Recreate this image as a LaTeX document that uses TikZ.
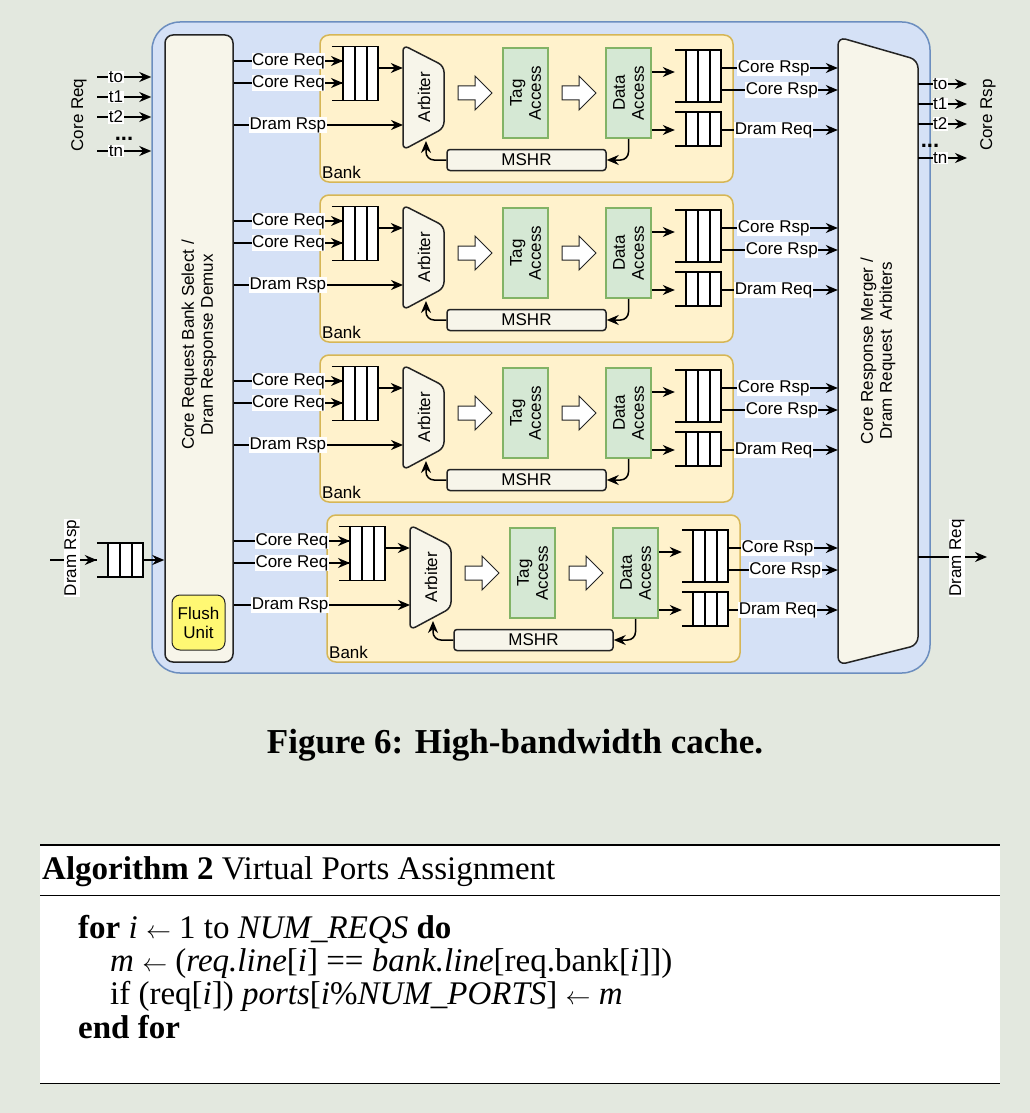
\documentclass[tikz,border=0pt]{standalone}
\usepackage{fontspec}
\setmainfont{Liberation Serif}
\newfontfamily\dsans{Liberation Sans}
\usetikzlibrary{arrows.meta,calc}
\definecolor{pagebg}{RGB}{227,232,223}
\definecolor{outerfill}{RGB}{213,225,246}
\definecolor{outerline}{RGB}{108,142,191}
\definecolor{bankfill}{RGB}{255,242,204}
\definecolor{bankline}{RGB}{214,182,86}
\definecolor{grnfill}{RGB}{213,232,212}
\definecolor{grnline}{RGB}{130,179,102}
\definecolor{boxfill}{RGB}{247,245,234}
\definecolor{lineclr}{RGB}{36,36,36}
\tikzset{
  every node/.style={font=\dsans\fontsize{17}{19}\selectfont},
  ar/.style={-{Stealth[length=12pt,width=10pt]},line width=1.5pt,draw=black},
  ln/.style={line width=1.5pt,draw=black},
  lbl/.style={fill=white,inner sep=0.5pt},
  grn/.style={draw=grnline,fill=grnfill,line width=1.5pt,minimum width=45,minimum height=90,inner sep=0pt},
  box/.style={draw=lineclr,fill=boxfill,line width=1.5pt,rounded corners=3pt},
  blk/.style={draw=lineclr,fill=white,line width=1pt},
  dots/.style={font=\dsans\bfseries\fontsize{22}{22}\selectfont,inner sep=0pt,anchor=base},
}
% queue: name, center, width, height
\newcommand{\myqueue}[4]{%
  \node[minimum width=#3,minimum height=#4,inner sep=0pt] (#1) at #2 {};
  \fill[white] ([xshift=0.24*#3]#1.south west) rectangle (#1.north east);
  \draw[ln] (#1.north west) -- (#1.north east) -- (#1.south east) -- (#1.south west);
  \foreach \f in {0.24,0.5,0.76}{\draw[ln] ([xshift=\f*#3]#1.north west) -- ([xshift=\f*#3]#1.south west);}
}
\begin{document}
\begin{tikzpicture}[x=1pt,y=-1pt]
\fill[pagebg] (0,0) rectangle (1030,1113);
\useasboundingbox (0,0) rectangle (1030,1113);
% outer
\node[draw=outerline,fill=outerfill,line width=1.5pt,rounded corners=28pt,minimum width=778,minimum height=651,inner sep=0pt] (outer) at (541,347.5) {};
% demux
\node[box,minimum width=68,minimum height=627,inner sep=0pt,rounded corners=8pt] (dmx) at (199,348.5) {};
\node[rotate=90,align=center] (dmxt) at (199,345) {Core Request Bank Select /\\Dram Response Demux};
\node[draw=lineclr,fill=yellow!55!white,line width=1pt,rounded corners=8pt,minimum width=53,minimum height=55,align=center,inner sep=0pt] (flush) at (198.5,622.5) {Flush\\Unit};
% merger
\node[minimum width=80,minimum height=628,inner sep=0pt] (mrg) at (878,351) {};
\draw[box,rounded corners=8pt] (838,665) -- (838,37) -- (918,60) -- (918,645) -- cycle;
\node[rotate=90,align=center] (mrgt) at (878,351) {Core Response Merger /\\Dram Request\ \ Arbiters};
% banks
\foreach \b/\dx/\dy in {1/0/0,2/0/160,3/0/320,4/7/480}{
\begin{scope}[shift={(\dx,\dy)}]
  \node[draw=bankline,fill=bankfill,line width=1.5pt,rounded corners=9pt,minimum width=413,minimum height=147,inner sep=0pt] (bank\b) at (526.5,108.5) {};
  \node[anchor=south west,inner sep=1pt] (bankt\b) at (321,180) {Bank};
  \myqueue{qi\b}{(355,73.5)}{46}{54}
  \myqueue{qo\b}{(698,76)}{46}{52}
  \myqueue{qd\b}{(698,129)}{46}{34}
  \node[minimum width=42,minimum height=105,inner sep=0pt] (arb\b) at (424,97.5) {};
  \draw[box,rounded corners=6pt] (403,150) -- (403,45) -- (444,66) -- (444,128) -- cycle;
  \node[rotate=90] (arbt\b) at (424,97) {Arbiter};
  \node[grn] (tag\b) at (525.5,93) {};
  \node[rotate=90,align=center] (tagt\b) at (525.5,93) {Tag\\Access};
  \node[grn] (da\b) at (628.5,93) {};
  \node[rotate=90,align=center] (dat\b) at (628.5,93) {Data\\Access};
  \node[box,minimum width=159,minimum height=21,inner sep=0pt] (mshr\b) at (526.5,160) {MSHR};
  \draw[blk] (458,86) -- (475,86) -- (475,76) -- (492,93) -- (475,110) -- (475,100) -- (458,100) -- cycle;
  \draw[blk] (562,86) -- (579,86) -- (579,76) -- (596,93) -- (579,110) -- (579,100) -- (562,100) -- cycle;
  \coordinate (ci\b a) at (343,61);
  \coordinate (ci\b b) at (343,83);
  \coordinate (dr\b) at (403,125);
  \coordinate (ab\b) at (426,141);
  \draw[ln] (dmx.east|-ci\b a) -- node[lbl,pos=0.5]{Core Req} (ci\b a);
  \draw[ln] (dmx.east|-ci\b b) -- node[lbl,pos=0.5]{Core Req} (ci\b b);
  \draw[ar] ($(ci\b a)+(-14,0)$) -- (ci\b a);
  \draw[ar] ($(ci\b b)+(-14,0)$) -- (ci\b b);
  \draw[ar] (dmx.east|-dr\b) -- node[lbl,pos=0.32]{Dram Rsp} (dr\b);
  \draw[ar] (qi\b.east|-0,68) -- (arb\b.west|-0,68);
  \draw[ar] (da\b.east|-0,72) -- (qo\b.west|-0,72);
  \draw[ar] (da\b.east|-0,130) -- (qd\b.west|-0,130);
  \draw[ar,rounded corners=8pt] (da\b.south) |- (mshr\b.east);
  \draw[ar,rounded corners=8pt] (mshr\b.west) -| (ab\b);
  \draw[ar] (qo\b.east|-0,68) -- node[lbl,pos=0.45]{Core Rsp} (mrg.west|-0,68);
  \draw[ar] (qo\b.east|-0,90) -- node[lbl,pos=0.52]{Core Rsp} (mrg.west|-0,90);
  \draw[ar] (qd\b.east|-0,130) -- node[lbl,pos=0.45]{Dram Req} (mrg.west|-0,130);
\end{scope}}
% left core req inputs
\foreach \n/\y/\t in {a/77/to,b/97/t1,c/117/t2,d/151/tn}{
  \coordinate (li\n) at (97,\y);
  \draw[ar] (li\n) -- node[lbl,pos=0.35]{\t} (outer.west|-li\n);
  \coordinate (ro\n) at (967,\y+7);
  \draw[ar] (mrg.east|-ro\n) -- node[lbl,pos=0.45]{\t} (ro\n);
}
\node[dots] (ldots) at (124,140) {...};
\node[dots] (rdots) at (930,147) {...};
\node[rotate=90] (lcr) at (79,115) {Core Req};
\node[rotate=90] (rcr) at (988,115) {Core Rsp};
% dram rsp in
\coordinate (dri) at (50,560);
\myqueue{qdr}{(120,560)}{46}{34}
\draw[ln] (dri) -- (qdr.west);
\draw[ar] ($(qdr.west)+(-16,0)$) -- (qdr.west);
\draw[ar] (qdr.east) -- (dmx.west|-qdr.east);
\node[rotate=90,lbl] (drl) at (72,558) {Dram Rsp};
% dram req out
\coordinate (dro) at (987,557);
\draw[ar] (mrg.east|-dro) -- (dro);
\node[rotate=90,lbl] (drql) at (957,558) {Dram Req};
% caption
\node[font=\bfseries\fontsize{35}{36}\selectfont] (cap) at (515,745) {Figure 6: High-bandwidth cache.};
% algorithm
\fill[white] (40,845) rectangle (1000,1083);
\draw[line width=2pt] (40,845) -- (1000,845);
\draw[line width=1pt] (40,895) -- (1000,895);
\draw[line width=1pt] (40,1083) -- (1000,1083);
\begin{scope}[every node/.style={font=\fontsize{33}{34}\selectfont,anchor=base west,inner sep=0pt}]
\node (alg) at (42,879) {\textbf{Algorithm 2} Virtual Ports Assignment};
\node (l1) at (78,938) {\textbf{for} \textit{i} $\leftarrow$ 1 to \textit{NUM\_REQS} \textbf{do}};
\node (l2) at (110,971) {\textit{m} $\leftarrow$ (\textit{req.line}[\textit{i}] == \textit{bank.line}[req.bank[\textit{i}]])};
\node (l3) at (110,1004) {if (req[\textit{i}]) \textit{ports}[\textit{i}\%\textit{NUM\_PORTS}] $\leftarrow$ \textit{m}};
\node (l4) at (78,1038) {\textbf{end for}};
\end{scope}
\end{tikzpicture}
\end{document}
